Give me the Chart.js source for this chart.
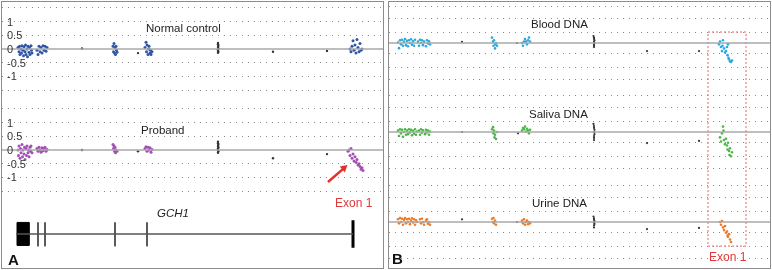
<!DOCTYPE html>
<html>
<head>
<meta charset="utf-8">
<script src="https://cdn.jsdelivr.net/npm/chart.js@4.4.1/dist/chart.umd.min.js"></script>
<style>
  body { margin: 0; width: 772px; height: 270px; background: #fff; position: relative; overflow: hidden;
         font-family: "Liberation Sans", Arial, sans-serif; }
  .panel { position: absolute; top: 1px; height: 266px; width: 381px; border: 1px solid #8c8c8c; }
  #panelA { left: 1px; }
  #panelB { left: 388px; }
  .panel canvas { position: absolute; left: 0; top: 0; }
  .lbl { position: absolute; font-size: 11.5px; color: #222; white-space: nowrap; line-height: 1; transform: translateY(-50%); }
  .tick { position: absolute; font-size: 11px; color: #333; white-space: nowrap; line-height: 1; transform: translateY(-50%); }
  .red { color: #e0393a; font-size: 12px; }
  .big { font-size: 15px; font-weight: bold; color: #111; }
</style>
</head>
<body>
<div class="panel" id="panelA"><canvas id="chartA" width="381" height="266"></canvas></div>
<div class="panel" id="panelB"><canvas id="chartB" width="381" height="266"></canvas></div>

<div class="lbl" style="left:146px;top:29px">Normal control</div>
<div class="lbl" style="left:141px;top:131px">Proband</div>
<div class="lbl" style="left:157px;top:214px;font-style:italic">GCH1</div>
<div class="lbl red" style="left:335px;top:203px">Exon 1</div>
<div class="lbl big" style="left:8px;top:259px">A</div>
<div class="lbl" style="left:531px;top:25px">Blood DNA</div>
<div class="lbl" style="left:529px;top:115px">Saliva DNA</div>
<div class="lbl" style="left:532px;top:204px">Urine DNA</div>
<div class="lbl red" style="left:709px;top:257px">Exon 1</div>
<div class="lbl big" style="left:392px;top:258px">B</div>

<script>
// ---- Panel A: probe position (arbitrary units) and log2 ratio ----
const normalControl = [
  [16,0.05],[17,-0.1],[17.5,0.1],[18,-0.2],[19,0.0],[19.5,-0.15],[20,0.12],[21,-0.05],[21.5,-0.25],[22,0.08],
  [23,-0.1],[23.5,0.15],[24,-0.2],[25,0.0],[25.5,-0.28],[26,0.1],[27,-0.12],[27.5,0.05],[28,-0.2],[29,0.12],
  [29.5,-0.05],[30,-0.15],
  [35,-0.05],[36,-0.2],[37,0.1],[38,-0.1],[39,0.05],[40,-0.15],[41,0.12],[42,-0.05],[43,0.1],[44,-0.08],[45,0.05],
  [111,0.1],[111.5,-0.1],[112,0.2],[112.5,-0.15],[113,0.05],[113.5,-0.2],[114,0.1],[114.5,-0.05],[115,-0.12],
  [143,0.05],[144,0.25],[144.5,-0.1],[145,0.15],[146,-0.2],[146.5,0.0],[147,0.1],[148,-0.15],[148.5,-0.05],[149,-0.2],[150,-0.1],
  [348,0.0],[349,-0.1],[350,0.1],[351,0.3],[352,-0.05],[353,0.15],[354,-0.15],[355,0.35],[356,0.05],[357,-0.1],[358,0.2],[359,-0.05],[360,0.0]
];
const proband = [
  [16,0.0],[16.5,-0.2],[17,0.15],[18,-0.3],[18.5,0.05],[19,-0.1],[20,0.2],[20.5,-0.25],[21,0.0],[22,-0.15],
  [22.5,0.1],[23,-0.35],[24,0.05],[24.5,-0.2],[25,0.15],[26,-0.1],[26.5,0.0],[27,-0.25],[28,0.1],[28.5,-0.05],[29,0.15],[30,-0.1],
  [35,0.05],[36,-0.05],[37,0.1],[38,0.0],[39,-0.08],[40,0.08],[41,-0.03],[42,0.05],[43,0.1],[44,-0.05],[45,0.02],
  [111,0.2],[111.5,0.05],[112,0.15],[112.5,-0.05],[113,0.1],[113.5,-0.1],[114,0.0],[115,-0.05],
  [143,0.05],[144,0.12],[145,-0.05],[146,0.1],[147,0.0],[148,0.08],[149,-0.08],[150,0.02],
  [346,-0.05],[347,0.0],[348,-0.2],[349,0.05],[350,-0.3],[351,-0.15],[352,-0.4],[353,-0.25],[354,-0.45],[355,-0.35],
  [356,-0.55],[357,-0.5],[358,-0.6],[359,-0.7],[360,-0.65],[361,-0.75]
];
// backbone (non-target) probes, shown in black
const controlRef = [[80,0.02],[136,-0.15],[216,0.22],[216,0.17],[216.3,0.12],[216,0.07],[216.3,0.03],[216,-0.02],
  [216,-0.06],[216.3,-0.1],[216,-0.14],[271,-0.1],[325,-0.07]];
const probandRef = [[80,0.0],[136,-0.05],[216,0.3],[216,0.25],[216.3,0.2],[216,0.15],[216.3,0.1],[216,0.05],
  [216,0.0],[216.3,-0.05],[216,-0.1],[271,-0.3],[325,-0.15]];
const tickValuesA = [1, 0.5, 0, -0.5, -1];
const gridValuesA = [1.5, 1, 0.5, -0.5, -1, -1.5];

// GCH1 gene model (same position units)
const geneSpan = [14, 351];
const bigExon = [15, 27];
const smallExons = [36, 43, 113, 145];
const exon1 = 351;
const arrowA = [[326, -1.17], [342, -0.66]];   // relative to proband track

// ---- Panel B: blood / saliva / urine ----
const blood = [
  [9,0.02],[10,-0.19],[11,0.1],[12,-0.05],[13,0.12],[14,-0.1],[15,0.05],[16,0.15],[17,-0.08],[18,0.08],[19,-0.12],
  [20,0.1],[21,0.0],[22,0.14],[23,-0.06],[24,0.06],[25,-0.1],[26,0.12],
  [29,0.05],[30,-0.1],[31,0.12],[32,0.0],[33,0.1],[34,-0.08],[35,0.05],[37,-0.12],[38,0.1],[39,-0.02],[40,0.06],[41,-0.05],
  [103,0.2],[104,0.05],[104.5,-0.1],[105,0.1],[106,-0.2],[106.5,-0.05],[107,0.0],[108,-0.1],
  [133,0.0],[134,-0.1],[135,0.05],[136,0.15],[137,0.05],[138,-0.05],[139,0.1],[140,0.2],[141,0.05],
  [330,-0.05],[331,0.05],[332,-0.15],[333,-0.3],[333.5,-0.1],[334,0.1],[335,-0.2],[336,-0.35],[337,-0.3],[338,-0.15],
  [339,-0.05],[338.5,-0.45],[339.5,-0.55],[340,-0.6],[341,-0.68],[342,-0.7],[343,-0.65]
];
const saliva = [
  [9,0.05],[10,-0.15],[11,0.1],[12,-0.05],[13,0.08],[14,-0.18],[15,0.0],[16,0.1],[17,-0.1],[18,0.05],[19,-0.08],
  [20,0.1],[21,-0.02],[22,0.08],[23,-0.12],[24,0.04],[25,-0.06],[26,0.1],[27,-0.1],[28,0.02],
  [30,0.05],[31,-0.1],[32,0.1],[33,-0.03],[34,0.06],[36,-0.08],[37,0.08],[38,-0.02],[39,0.05],[40,-0.1],[41,0.02],
  [103,0.1],[104,0.18],[104.5,-0.05],[105,0.05],[105.5,-0.2],[106,-0.1],[107,-0.26],[108,0.0],
  [133,0.05],[134,0.15],[135,0.1],[136,0.2],[137,0.02],[138,0.12],[139,0.05],[140,-0.05],[141,0.08],
  [331,-0.2],[332,-0.35],[333,-0.05],[334,0.2],[334.5,0.05],[335,-0.3],[336,-0.45],[337,-0.25],[338,-0.5],
  [338.5,-0.65],[339,-0.4],[340,-0.7],[340.5,-0.85],[341,-0.6],[342,-0.9],[343,-0.75]
];
const urine = [
  [9,0.1],[10,-0.05],[11,0.15],[12,0.0],[13,0.12],[14,-0.1],[15,0.08],[16,0.15],[17,-0.05],[18,0.1],[19,0.0],
  [20,0.12],[21,-0.08],[22,0.05],[23,0.14],[24,-0.02],[25,0.1],[26,-0.1],[27,0.06],[28,0.0],
  [31,0.1],[32,-0.05],[33,0.12],[34,0.0],[35,-0.1],[37,0.05],[38,0.1],[39,-0.06],[40,0.0],[41,-0.1],
  [103,0.12],[104,0.0],[104.5,0.15],[105,-0.05],[106,0.05],[107,-0.1],
  [133,0.05],[134,-0.05],[135,0.1],[136,-0.1],[137,0.0],[138,0.05],[139,-0.08],[140,0.0],[141,-0.05],
  [331,0.0],[332,-0.1],[333,0.04],[334,-0.2],[335,-0.3],[336,-0.15],[337,-0.4],[338,-0.35],[338.5,-0.5],
  [339,-0.55],[340,-0.45],[341,-0.65],[342,-0.74]
];
const bloodRef = [[73,0.04],[128,0.0],[204.5,0.26],[205,0.2],[205,0.15],[205.5,0.1],[205,0.05],[205.5,0.0],
  [205,-0.05],[205,-0.1],[205,-0.15],[258,-0.3],[310,-0.3]];
const salivaRef = [[73,0.0],[129,-0.05],[204.5,0.3],[205,0.22],[205,0.15],[205.5,0.08],[205,0.0],[205.5,-0.08],
  [205,-0.15],[205,-0.22],[205,-0.3],[258,-0.41],[310,-0.33]];
const urineRef = [[73,0.1],[128,0.0],[204.5,0.2],[205,0.14],[205,0.08],[205.5,0.03],[205,-0.02],[205.5,-0.07],
  [205,-0.12],[205,-0.2],[258,-0.26],[310,-0.22]];
const gridValuesB = [1.35, 0.9, 0.4, -0.4, -0.9, -1.35];
const exon1Region = [319, 357];

// ---- layout ----
const offsetsA = [0, -3.686];
const geneY = -6.75;
const offsetsB = [0, -3.296, -6.63];

const pts = (arr, off) => arr.map(p => ({ x: p[0], y: p[1] + off }));

function scatterSet(arr, off, color, r) {
  return { data: pts(arr, off), backgroundColor: color, borderWidth: 0, pointRadius: r, pointHoverRadius: r };
}
function lineSet(points, color, width, extra) {
  return Object.assign({ data: points, showLine: true, borderColor: color, borderWidth: width,
    pointRadius: 0, backgroundColor: color }, extra || {});
}

const tickLabels = {
  id: 'tickLabels',
  afterDraw(chart, args, opts) {
    if (!opts.values || chart.$labelsDone) return;
    const y = chart.scales.y;
    const top = chart.canvas.getBoundingClientRect().top;
    opts.offsets.forEach(off => opts.values.forEach(v => {
      const d = document.createElement('div');
      d.className = 'tick';
      d.textContent = String(v);
      d.style.left = opts.left + 'px';
      d.style.top = (top + y.getPixelForValue(v + off)) + 'px';
      document.body.appendChild(d);
    }));
    chart.$labelsDone = true;
  }
};

function baseOptions(yMin, yMax, gridVals, offsets) {
  return {
    responsive: false,
    animation: false,
    layout: { padding: 0, autoPadding: false },
    plugins: { legend: { display: false }, tooltip: { enabled: false } },
    scales: {
      x: { type: 'linear', min: 0, max: 381, display: false },
      y: {
        type: 'linear', min: yMin, max: yMax,
        afterBuildTicks: axis => {
          axis.ticks = [];
          offsets.forEach(off => gridVals.forEach(v => axis.ticks.push({ value: v + off })));
        },
        ticks: { display: false },
        grid: { color: '#8e8e8e', lineWidth: 1, drawTicks: false },
        border: { display: false, dash: [1, 5] }
      }
    }
  };
}

// ---- Panel A chart ----
const datasetsA = [];
offsetsA.forEach(off => datasetsA.push(lineSet([{ x: 0, y: off }, { x: 381, y: off }], '#a8a8a8', 1.5)));
datasetsA.push(scatterSet(normalControl, offsetsA[0], '#2f55a6', 1.5));
datasetsA.push(scatterSet(proband, offsetsA[1], '#a24fb6', 1.5));
datasetsA.push(scatterSet(controlRef, offsetsA[0], '#333', 1.2));
datasetsA.push(scatterSet(probandRef, offsetsA[1], '#333', 1.2));
// gene model
datasetsA.push(lineSet([{ x: geneSpan[0], y: geneY }, { x: geneSpan[1], y: geneY }], '#555', 1.5));
datasetsA.push(lineSet([
  { x: bigExon[0], y: geneY + 0.42 }, { x: bigExon[1], y: geneY + 0.42 },
  { x: bigExon[1], y: geneY - 0.42 }, { x: bigExon[0], y: geneY - 0.42 }, { x: bigExon[0], y: geneY + 0.42 }
], '#000', 1, { fill: 'shape', backgroundColor: '#000' }));
smallExons.forEach(x => datasetsA.push(lineSet([{ x: x, y: geneY + 0.42 }, { x: x, y: geneY - 0.45 }], '#444', 1)));
datasetsA.push(lineSet([{ x: exon1, y: geneY + 0.5 }, { x: exon1, y: geneY - 0.5 }], '#000', 3));
// arrow
datasetsA.push(lineSet(pts(arrowA, offsetsA[1]), '#e2312b', 2.5, {
  pointRadius: [0, 4.5], pointStyle: 'triangle', rotation: 49, pointBackgroundColor: '#e2312b', pointBorderWidth: 0
}));

const optsA = baseOptions(-7.993, 1.715, gridValuesA, offsetsA);
optsA.plugins.tickLabels = { values: tickValuesA, offsets: offsetsA, left: 7 };
new Chart(document.getElementById('chartA'), {
  type: 'scatter', data: { datasets: datasetsA }, options: optsA, plugins: [tickLabels]
});

// ---- Panel B chart ----
const datasetsB = [];
offsetsB.forEach(off => datasetsB.push(lineSet([{ x: 0, y: off }, { x: 381, y: off }], '#a8a8a8', 1.5)));
datasetsB.push(scatterSet(blood, offsetsB[0], '#2aa8df', 1.3));
datasetsB.push(scatterSet(saliva, offsetsB[1], '#4cb748', 1.3));
datasetsB.push(scatterSet(urine, offsetsB[2], '#ec7b2c', 1.3));
datasetsB.push(scatterSet(bloodRef, offsetsB[0], '#333', 1.1));
datasetsB.push(scatterSet(salivaRef, offsetsB[1], '#333', 1.1));
datasetsB.push(scatterSet(urineRef, offsetsB[2], '#333', 1.1));
datasetsB.push(lineSet([
  { x: exon1Region[0], y: 0.407 }, { x: exon1Region[1], y: 0.407 },
  { x: exon1Region[1], y: -7.52 }, { x: exon1Region[0], y: -7.52 }, { x: exon1Region[0], y: 0.407 }
], '#e46464', 1, { borderDash: [2, 2] }));

new Chart(document.getElementById('chartB'), {
  type: 'scatter', data: { datasets: datasetsB }, options: baseOptions(-8.333, 1.519, gridValuesB, offsetsB)
});
</script>
</body>
</html>
